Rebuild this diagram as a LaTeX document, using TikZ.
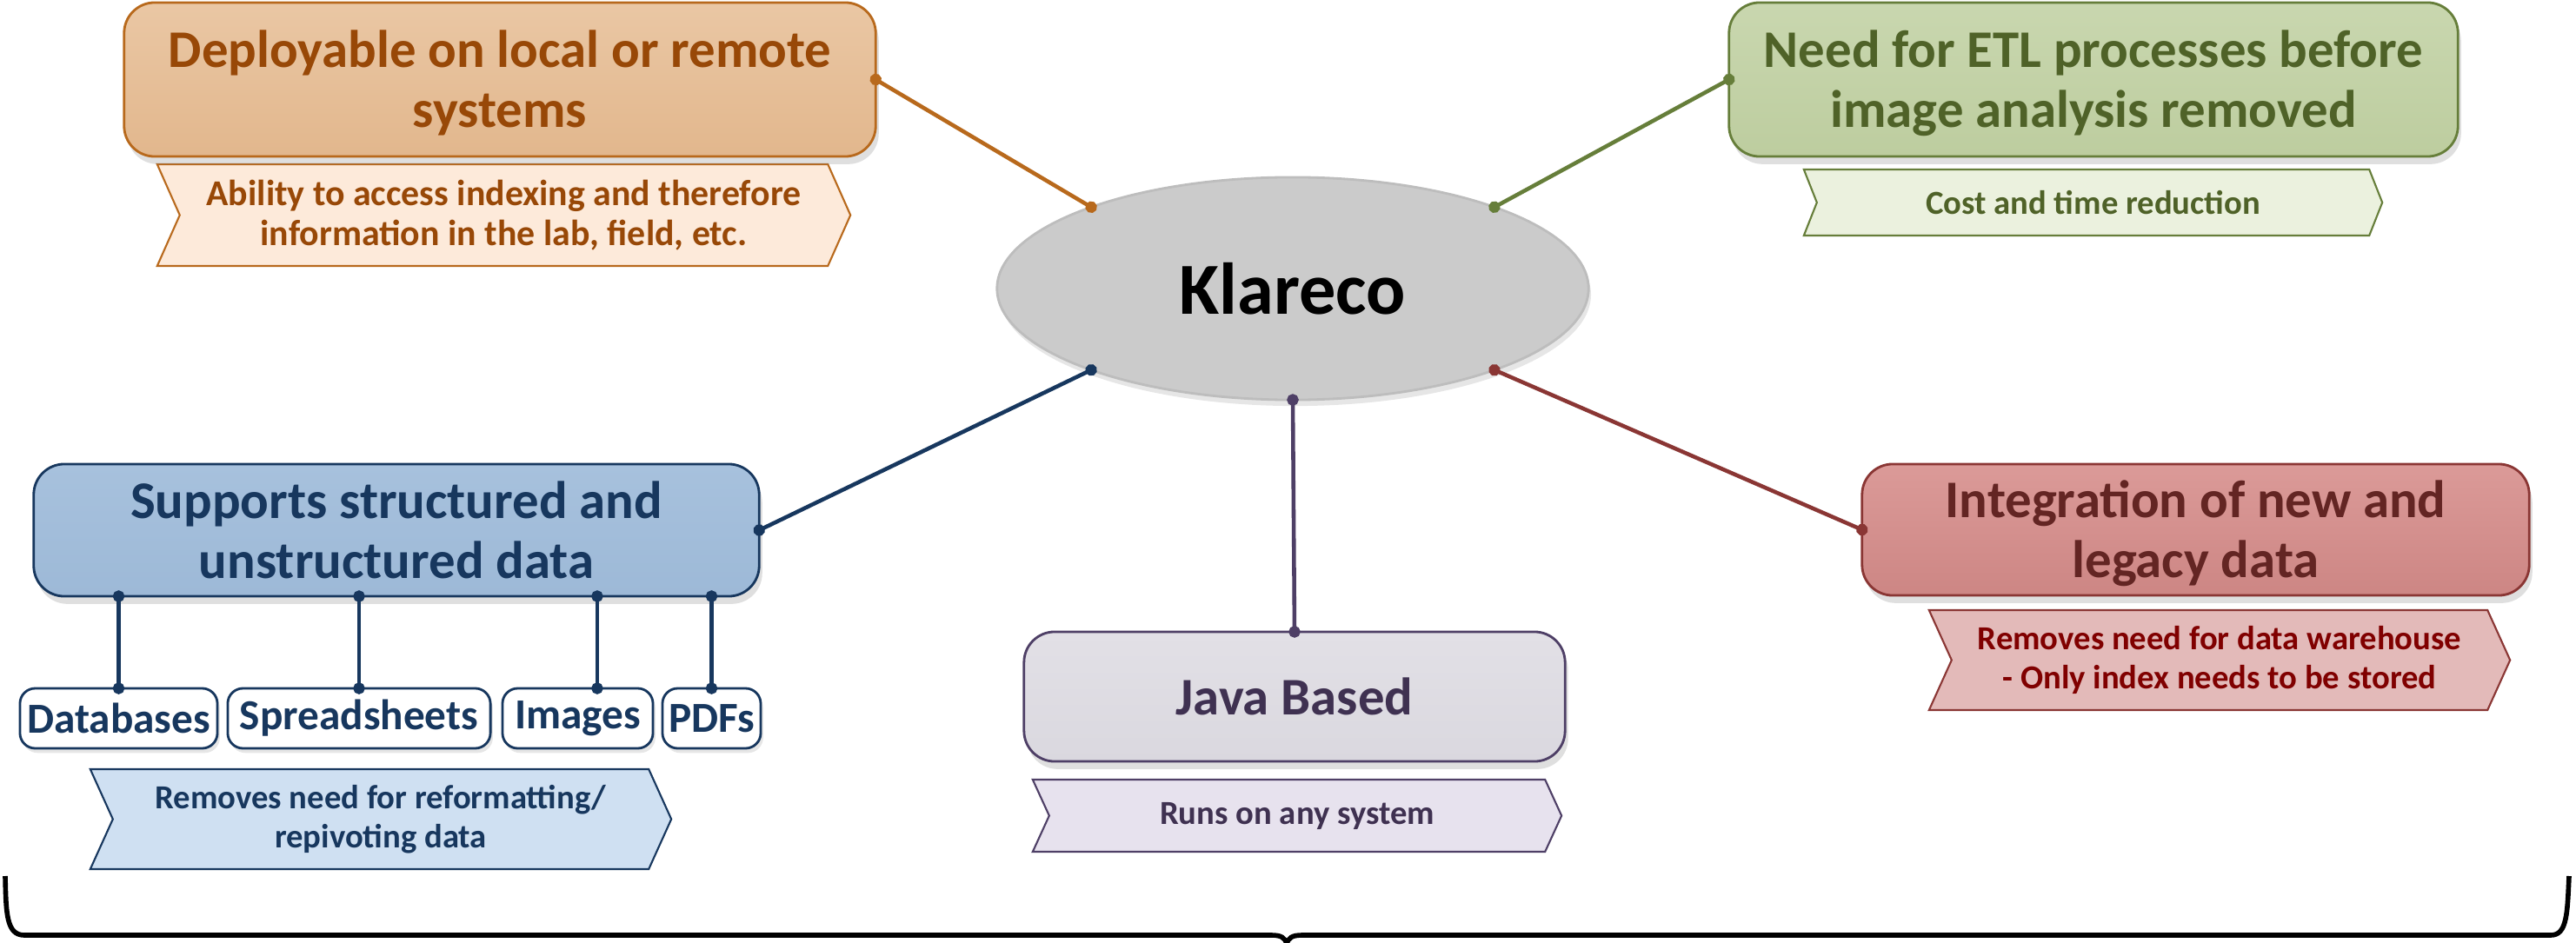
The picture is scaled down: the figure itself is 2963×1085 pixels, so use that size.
\documentclass[tikz,border=0pt]{standalone}
\usepackage{fontspec}
\setmainfont{Carlito}
\usetikzlibrary{shapes.geometric,arrows.meta,shadows,calc,backgrounds}

\definecolor{orgtop}{HTML}{EAC7A4}
\definecolor{orgbot}{HTML}{E2B78D}
\definecolor{orgline}{HTML}{B8691C}
\definecolor{orgtext}{HTML}{984807}
\definecolor{orgchev}{HTML}{FDEADA}
\definecolor{grntop}{HTML}{C9D7AF}
\definecolor{grnbot}{HTML}{BDCD9F}
\definecolor{grnline}{HTML}{667E3A}
\definecolor{grntext}{HTML}{4F6228}
\definecolor{grnchev}{HTML}{EBF1DE}
\definecolor{blutop}{HTML}{A7C1DD}
\definecolor{blubot}{HTML}{9DB9D7}
\definecolor{blutext}{HTML}{17375E}
\definecolor{bluchev}{HTML}{CFE0F2}
\definecolor{purtop}{HTML}{E2E0E6}
\definecolor{purbot}{HTML}{DAD8DF}
\definecolor{purline}{HTML}{4E3F66}
\definecolor{purtext}{HTML}{3F3151}
\definecolor{purchev}{HTML}{E7E2EE}
\definecolor{redtop}{HTML}{DB9A98}
\definecolor{redbot}{HTML}{CD8684}
\definecolor{redline}{HTML}{8A3634}
\definecolor{redtext}{HTML}{632523}
\definecolor{redchev}{HTML}{E3BAB9}
\definecolor{redchevtext}{HTML}{800000}
\definecolor{ellfill}{HTML}{CBCBCB}
\definecolor{ellline}{HTML}{BDBDBD}

\newcommand\chevpath[3]{%
  \path[#3] ($(#1.north west)+(-#2/2,0)$) -- ($(#1.north east)+(-#2/2,0)$)
    -- ($(#1.east)+(#2/2,0)$) -- ($(#1.south east)+(-#2/2,0)$)
    -- ($(#1.south west)+(-#2/2,0)$) -- ($(#1.west)+(#2/2,0)$) -- cycle;}
\newcommand\lowtext[1]{\raisebox{-2pt}[\height][\depth]{\begin{tabular}{@{}c@{}}#1\end{tabular}}}

\begin{document}
\begin{tikzpicture}[x=0.01cm,y=-0.01cm,
  mainbox/.style={draw, line width=0.8pt, rounded corners=10pt,
    font=\fontsize{17.3}{19.5}\selectfont\bfseries, inner sep=0pt, outer sep=0pt,
    drop shadow={opacity=0.25, shadow xshift=1pt, shadow yshift=-2.5pt}},
  chevtext/.style={align=center, inner sep=0pt, outer sep=0pt,
    font=\fontsize{11}{12.8}\selectfont\bfseries},
  chevshape/.style={line width=0.6pt},
  smallbox/.style={draw=blutext, fill=white, line width=0.8pt, rounded corners=5pt,
    inner sep=0pt, outer sep=0pt, text=blutext,
    font=\fontsize{14}{16}\selectfont\bfseries,
    drop shadow={opacity=0.2, shadow xshift=0.8pt, shadow yshift=-1.5pt}},
  conn/.style={line width=1.3pt, shorten <=-1.9pt, shorten >=-1.9pt,
    {Circle[length=3.8pt,width=3.8pt]}-{Circle[length=3.8pt,width=3.8pt]}},
  bracepath/.style={line width=1.6pt, black, line join=round}
]
\useasboundingbox (0,0) rectangle (2963,1085);

% central ellipse
\node[ellipse, draw=ellline, line width=0.8pt, fill=ellfill, minimum width=6.8cm,
  minimum height=2.56cm, inner sep=0pt, outer sep=0pt,
  font=\fontsize{24}{28}\selectfont\bfseries,
  drop shadow={opacity=0.2, shadow xshift=0.8pt, shadow yshift=-2pt}]
  (klareco) at (1487,332) {Klareco};

% main boxes
\node[mainbox, top color=orgtop, bottom color=orgbot, draw=orgline, text=orgtext,
  minimum width=8.64cm, minimum height=1.77cm] (org) at (575,91.5)
  {\lowtext{Deployable on local or remote\\systems}};
\node[mainbox, top color=grntop, bottom color=grnbot, draw=grnline, text=grntext,
  minimum width=8.38cm, minimum height=1.77cm] (grn) at (2408,91.5)
  {\lowtext{Need for ETL processes before\\image analysis removed}};
\node[mainbox, top color=blutop, bottom color=blubot, draw=blutext, text=blutext,
  minimum width=8.34cm, minimum height=1.52cm] (blu) at (456,610)
  {\lowtext{Supports structured and\\unstructured data}};
\node[mainbox, top color=purtop, bottom color=purbot, draw=purline, text=purtext,
  minimum width=6.22cm, minimum height=1.49cm] (pur) at (1489,801.5)
  {\lowtext{Java Based}};
\node[mainbox, top color=redtop, bottom color=redbot, draw=redline, text=redtext,
  minimum width=7.67cm, minimum height=1.51cm] (red) at (2525.5,609.5)
  {\lowtext{Integration of new and\\legacy data}};

% small boxes
\node[smallbox, minimum width=2.27cm, minimum height=0.69cm] (db) at (136.5,826.5) {Databases};
\node[smallbox, minimum width=3.02cm, minimum height=0.69cm] (ss) at (413,826.5) {Spreadsheets};
\node[smallbox, minimum width=1.73cm, minimum height=0.69cm] (img) at (664.5,826.5) {Images};
\node[smallbox, minimum width=1.13cm, minimum height=0.69cm] (pdf) at (818.5,826.5) {PDFs};

% chevron texts
\node[chevtext, text=orgtext, minimum width=7.71cm, minimum height=1.17cm,
  font=\fontsize{11.9}{13.2}\selectfont\bfseries] (orgc) at (579.5,247.5)
  {Ability to access indexing and therefore\\information in the lab, field, etc.};
\node[chevtext, text=grntext, minimum width=6.50cm, minimum height=0.76cm] (grnc) at (2407.5,233)
  {Cost and time reduction};
\node[chevtext, text=blutext, minimum width=6.42cm, minimum height=1.15cm] (bluc) at (438,942.5)
  {Removes need for reformatting/\\repivoting data};
\node[chevtext, text=purtext, minimum width=5.89cm, minimum height=0.83cm] (purc) at (1492,938.5)
  {Runs on any system};
\node[chevtext, text=redchevtext, minimum width=6.42cm, minimum height=1.15cm] (redc) at (2553,759.5)
  {Removes need for data warehouse\\- Only index needs to be stored};

\begin{scope}[on background layer]
  \chevpath{orgc}{26}{chevshape, fill=orgchev, draw=orgline}
  \chevpath{grnc}{15}{chevshape, fill=grnchev, draw=grnline}
  \chevpath{bluc}{26}{chevshape, fill=bluchev, draw=blutext}
  \chevpath{purc}{19}{chevshape, fill=purchev, draw=purline}
  \chevpath{redc}{26}{chevshape, fill=redchev, draw=redline}
\end{scope}

% connectors
\draw[conn, color=orgline] (org.east) -- (klareco.158);
\draw[conn, color=grnline] (grn.west) -- (klareco.22);
\draw[conn, color=blutext] (blu.east) -- (klareco.202);
\draw[conn, color=redline] (red.west) -- (klareco.338);
\draw[conn, color=purline] (pur.north) -- (klareco.south);

\draw[conn, color=blutext] (blu.south -| db.north) -- (db.north);
\draw[conn, color=blutext] (blu.south -| ss.north) -- (ss.north);
\draw[conn, color=blutext] (blu.south -| img.57) -- (img.57);
\draw[conn, color=blutext] (blu.south -| pdf.north) -- (pdf.north);

% bottom brace
\draw[bracepath] (6,1008) .. controls (7,1050) and (7,1076) .. (28,1076)
  -- (1462,1076) .. controls (1474,1076) and (1478,1079) .. (1480,1086)
  .. controls (1482,1079) and (1486,1076) .. (1498,1076)
  -- (2934,1076) .. controls (2953,1076) and (2953,1050) .. (2955,1008);
\end{tikzpicture}
\end{document}
